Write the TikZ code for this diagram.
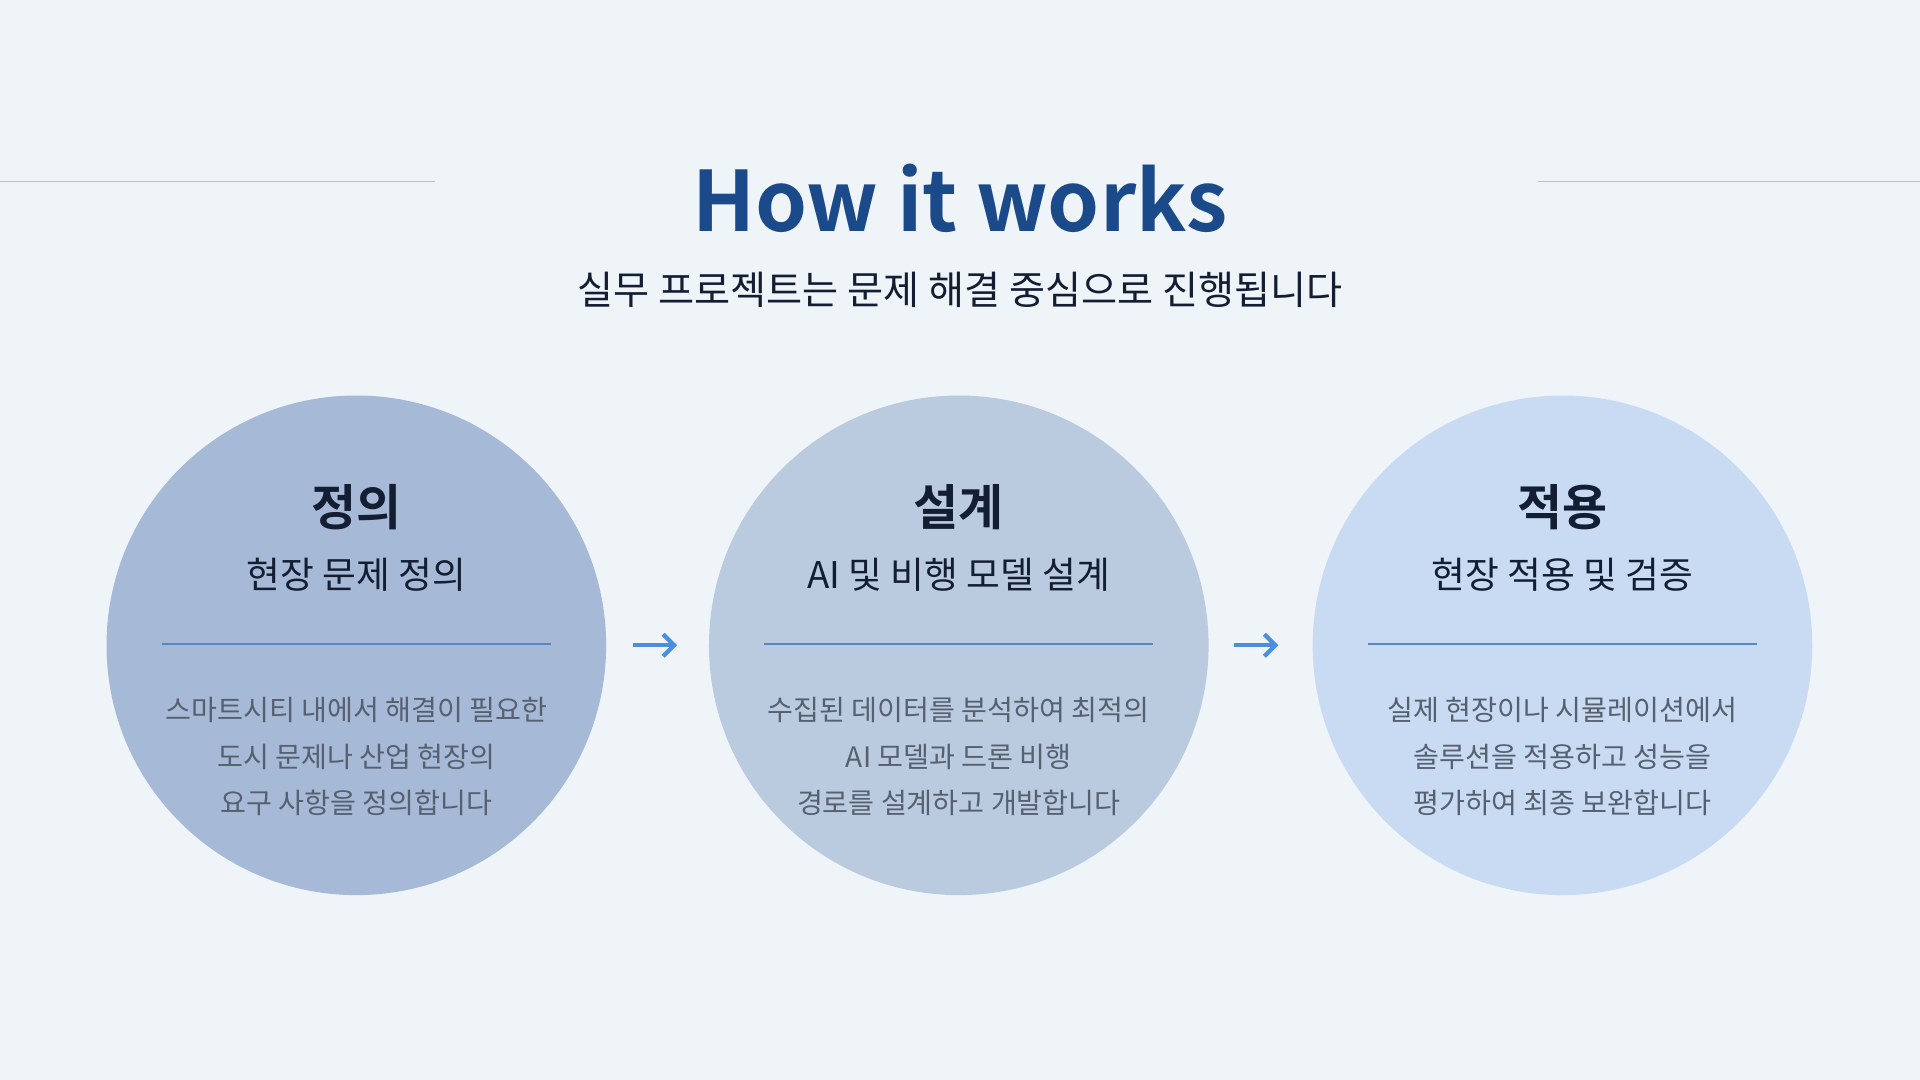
\documentclass[tikz,border=0pt]{standalone}
\usetikzlibrary{arrows.meta}
\usepackage{fontspec}
\setmainfont{Noto Sans CJK KR}
\newfontfamily\kb{Noto Sans CJK KR}[BoldFont={* Bold}]
\definecolor{bg}{HTML}{EFF4F9}
\definecolor{ttl}{HTML}{1B4A8A}
\definecolor{cA}{HTML}{A6B9D6}
\definecolor{cB}{HTML}{BACBDF}
\definecolor{cC}{HTML}{C8DBF3}
\definecolor{rule}{HTML}{A9C4DE}
\definecolor{div}{HTML}{5B86C0}
\definecolor{body}{HTML}{56606F}
\definecolor{dark}{HTML}{141E33}
\definecolor{arr}{HTML}{4A8EE0}
\begin{document}
\begin{tikzpicture}[x=1pt,y=-1pt,
  circ/.style={circle,minimum size=408pt,inner sep=0pt},
  head/.style={font=\kb\bfseries\fontsize{40}{48}\selectfont,text=dark},
  sub/.style={font=\fontsize{30}{36}\selectfont,text=dark},
  bodyt/.style={font=\fontsize{23}{38}\selectfont,text=body,align=center},
  dv/.style={draw=div,line width=1.2pt},
  ar/.style={draw=arr,line width=3.5pt,-{Straight Barb[length=9pt,width=18pt]}}]
\fill[bg] (0,0) rectangle (1568,882);
\useasboundingbox (0,0) rectangle (1568,882);
\coordinate (l1) at (0,148); \coordinate (l2) at (355,148);
\coordinate (r1) at (1256,148); \coordinate (r2) at (1568,148);
\draw[rule,line width=1pt] (l1)--(l2) (r1)--(r2);
\node[font=\kb\bfseries\fontsize{68}{80}\selectfont,text=ttl] (title) at (784,162) {How it works};
\node[font=\fontsize{32}{38}\selectfont,text=dark] (stitle) at (784,237) {실무 프로젝트는 문제 해결 중심으로 진행됩니다};
\node[circ,fill=cA] (c1) at (291,527) {};
\node[circ,fill=cB] (c2) at (783,527) {};
\node[circ,fill=cC] (c3) at (1276,527) {};
\foreach \c/\x/\h/\s/\b in {1/291/정의/현장 문제 정의/{스마트시티 내에서 해결이 필요한\\도시 문제나 산업 현장의\\요구 사항을 정의합니다},
 2/783/설계/AI 및 비행 모델 설계/{수집된 데이터를 분석하여 최적의\\AI 모델과 드론 비행\\경로를 설계하고 개발합니다},
 3/1276/적용/현장 적용 및 검증/{실제 현장이나 시뮬레이션에서\\솔루션을 적용하고 성능을\\평가하여 최종 보완합니다}}{
  \node[head] (h\c) at (\x,414) {\h};
  \node[sub] (s\c) at (\x,469) {\s};
  \coordinate (da\c) at (\x-159,526); \coordinate (db\c) at (\x+159,526);
  \draw[dv] (da\c)--(db\c);
  \node[bodyt] (b\c) at (\x,618) {\b};
}
\coordinate (a1) at (517,527); \coordinate (a2) at (553,527);
\coordinate (a3) at (1008,527); \coordinate (a4) at (1044,527);
\draw[ar] (a1)--(a2); \draw[ar] (a3)--(a4);
\end{tikzpicture}
\end{document}
